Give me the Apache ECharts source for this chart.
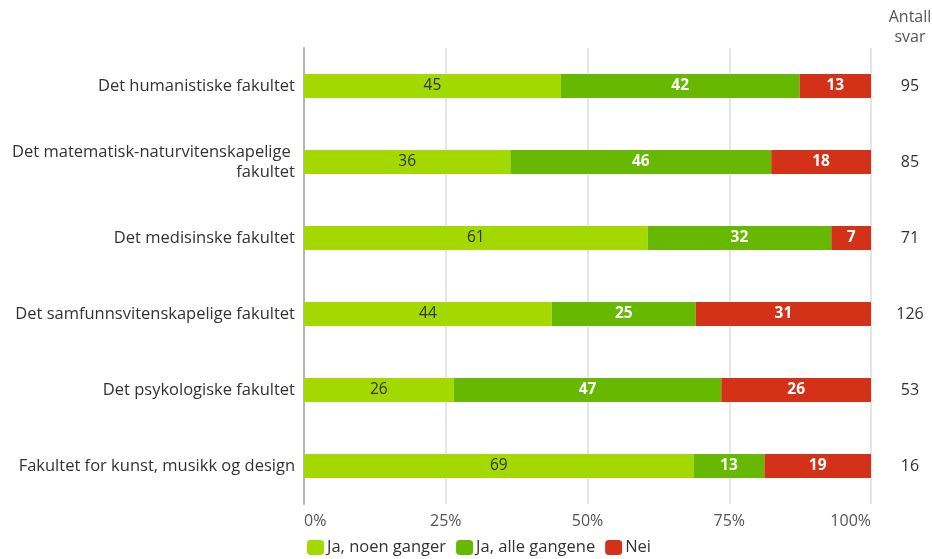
<!DOCTYPE html>
<html>
<head>
<meta charset="utf-8">
<script src="https://cdn.jsdelivr.net/npm/echarts@6/dist/echarts.min.js"></script>
<style>
html,body{margin:0;padding:0;background:#fff;}
#main{width:932px;height:559px;}
</style>
</head>
<body>
<div id="main"></div>
<script>
const categories = [
  'Det humanistiske fakultet',
  'Det matematisk-naturvitenskapelige fakultet',
  'Det medisinske fakultet',
  'Det samfunnsvitenskapelige fakultet',
  'Det psykologiske fakultet',
  'Fakultet for kunst, musikk og design'
];
const seriesNames = ['Ja, noen ganger', 'Ja, alle gangene', 'Nei'];
const jaNoen = [45.3, 36.4, 60.6, 43.7, 26.4, 68.7];
const jaAlle = [42.1, 46.0, 32.4, 25.4, 47.2, 12.5];
const nei = [12.6, 17.6, 7.0, 30.9, 26.4, 18.8];
const antallSvar = [95, 85, 71, 126, 53, 16];
const xTicks = [0, 25, 50, 75, 100];

const FONT = '"Open Sans", "DejaVu Sans", sans-serif';
const colors = ['#a4d900', '#66b800', '#d33218'];

const chart = echarts.init(document.getElementById('main'), null, {renderer: 'canvas'});

function mkSeries(name, data, idx) {
  const first = idx === 0;
  return {
    name: name,
    type: 'bar',
    stack: 'total',
    yAxisIndex: 0,
    barWidth: 24,
    data: data,
    itemStyle: {color: colors[idx]},
    label: {
      show: true,
      position: 'inside',
      formatter: p => Math.round(p.value),
      color: first ? '#333' : '#fff',
      fontWeight: first ? 'normal' : 'bold',
      fontFamily: FONT,
      fontSize: 15.5
    }
  };
}

chart.setOption({
  animation: false,
  color: colors,
  textStyle: {fontFamily: FONT},
  grid: {left: 304, right: 61, top: 48, bottom: 55, containLabel: false},
  xAxis: {
    type: 'value',
    min: xTicks[0],
    max: xTicks[xTicks.length - 1],
    interval: 25,
    axisLine: {show: false},
    axisTick: {show: false},
    splitLine: {show: true, lineStyle: {color: '#dcdcdc', width: 1.5}},
    axisLabel: {
      formatter: '{value}%',
      color: '#555',
      fontSize: 16,
      fontFamily: FONT,
      margin: 9,
      alignMinLabel: 'left',
      alignMaxLabel: 'right'
    }
  },
  yAxis: [
    {
      type: 'category',
      data: categories,
      inverse: true,
      axisLine: {show: true, lineStyle: {color: '#b5b5b5', width: 2}},
      axisTick: {show: false},
      axisLabel: {
        color: '#333',
        fontSize: 16.5,
        fontFamily: FONT,
        margin: 9,
        width: 292,
        overflow: 'break',
        lineHeight: 20,
        align: 'right'
      }
    },
    {
      type: 'category',
      data: antallSvar,
      inverse: true,
      position: 'right',
      axisLine: {show: false},
      axisTick: {show: false},
      splitLine: {show: false},
      axisLabel: {
        color: '#333',
        fontSize: 16,
        fontFamily: FONT,
        margin: 39,
        align: 'center'
      }
    }
  ],
  legend: {
    data: seriesNames,
    left: 302,
    bottom: -2,
    itemWidth: 17,
    itemHeight: 15,
    itemGap: 10,
    icon: 'roundRect',
    textStyle: {color: '#333', fontSize: 16.5, fontFamily: FONT, padding: [0, 0, 0, -2]}
  },
  graphic: [{
    type: 'text',
    x: 910,
    y: 7,
    style: {
      text: 'Antall\nsvar',
      fill: '#555',
      font: '16px ' + FONT,
      align: 'center',
      verticalAlign: 'top',
      lineHeight: 20
    }
  }],
  series: [
    mkSeries(seriesNames[0], jaNoen, 0),
    mkSeries(seriesNames[1], jaAlle, 1),
    mkSeries(seriesNames[2], nei, 2)
  ]
});
</script>
</body>
</html>
